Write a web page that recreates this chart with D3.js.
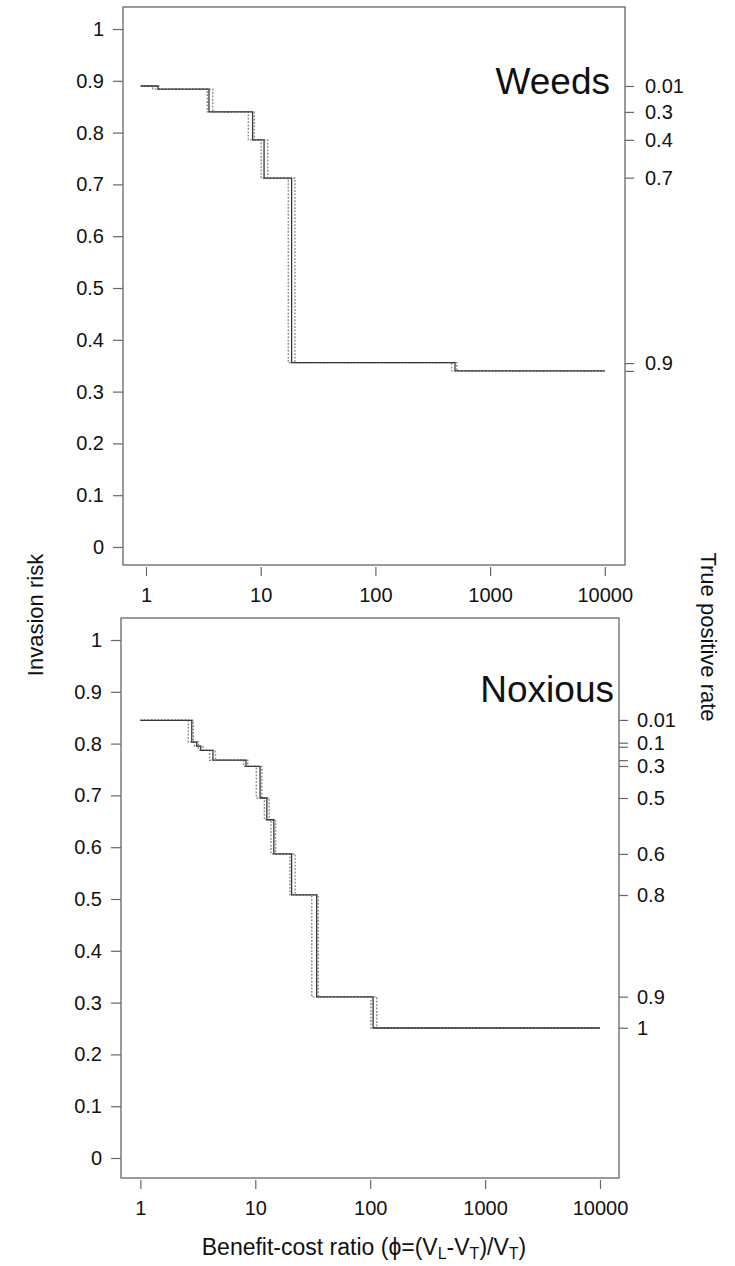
<!DOCTYPE html>
<html>
<head>
<meta charset="utf-8">
<script src="https://cdnjs.cloudflare.com/ajax/libs/d3/7.8.5/d3.min.js"></script>
<style>
    body { margin: 0; background: #fff; }
    text { font-family: 'Liberation Sans', Arial, sans-serif; fill: #111; }
    .frame { fill: none; stroke: #666; stroke-width: 1.3; }
    .tick-line { stroke: #666; stroke-width: 1.2; }
    .step { fill: none; stroke: #383838; stroke-width: 1.3; }
    .ci { fill: none; stroke: #8a8a8a; stroke-width: 1.4; stroke-dasharray: 1.8,1.6; }
</style>
</head>
<body>
<svg class="chart"></svg>
<script>
// Weeds panel: benefit-cost ratio where the step happens, and invasion risk after it
var weedsRatio = [0.9, 1.27, 3.54, 8.5, 10.7, 18.6, 494, 10000];
var weedsRisk = [0.890, 0.884, 0.840, 0.786, 0.712, 0.356, 0.340, 0.340];
// dotted bounds (lower / upper ratio for each step)
var weedsLo = [0.9, 1.15, 3.42, 7.8, 10.1, 17.4, 462, 10000];
var weedsHi = [0.9, 1.3, 3.82, 8.8, 11.5, 19.9, 512, 10000];
// true positive rate ticks on the right
var weedsTprAt = [0.890, 0.840, 0.786, 0.713, 0.355, 0.340];
var weedsTprLabel = ['0.01', '0.3', '0.4', '0.7', '0.9', ''];

// Noxious panel
var noxRatio = [1, 2.80, 3.09, 3.35, 4.28, 8.3, 11.0, 12.6, 14.5, 20.7, 34.2, 106, 10000];
var noxRisk = [0.845, 0.803, 0.795, 0.787, 0.768, 0.756, 0.695, 0.653, 0.587, 0.508, 0.311, 0.251, 0.251];
var noxLo = [1, 2.61, 2.95, 3.2, 4.0, 7.9, 10.2, 12.0, 13.7, 20.0, 31.0, 101.6, 10000];
var noxHi = [1, 2.89, 3.2, 3.5, 4.5, 8.6, 11.4, 13.2, 15.0, 22.2, 35.3, 114, 10000];
var noxTprAt = [0.8457, 0.8017, 0.794, 0.768, 0.7568, 0.695, 0.587, 0.5077, 0.3114, 0.2515];
var noxTprLabel = ['0.01', '0.1', '', '', '0.3', '0.5', '0.6', '0.8', '0.9', '1'];

// Axis ticks
var xTicks = [1, 10, 100, 1000, 10000];
var yTicks = [0, 0.1, 0.2, 0.3, 0.4, 0.5, 0.6, 0.7, 0.8, 0.9, 1];

var width = 735,
    height = 1266;

var svg = d3.select('.chart').attr('width', width).attr('height', height);

// panel boxes (pixels)
var panels = [
    {
        name: 'Weeds', box: { left: 123, right: 625, top: 7, bottom: 565 },
        xr: [146, 604.8], yr: [547, 29], nameX: 610, nameY: 94, rPad: 11,
        ratio: weedsRatio, risk: weedsRisk, lo: weedsLo, hi: weedsHi,
        tprAt: weedsTprAt, tprLabel: weedsTprLabel
    },
    {
        name: 'Noxious', box: { left: 121, right: 619, top: 618, bottom: 1178 },
        xr: [140.4, 600], yr: [1158, 640], nameX: 614, nameY: 702, rPad: 9,
        ratio: noxRatio, risk: noxRisk, lo: noxLo, hi: noxHi,
        tprAt: noxTprAt, tprLabel: noxTprLabel
    }
];

function styleAxis(a) {
    a.select('.domain').remove();
    a.selectAll('line').attr('class', 'tick-line').attr('stroke', null);
    a.selectAll('text').attr('font-size', 20).attr('fill', null);
}

panels.forEach(function (p) {
    var x = d3.scaleLog().domain([1, 10000]).range(p.xr);
    var y = d3.scaleLinear().domain([0, 1]).range(p.yr);
    var g = svg.append('g');

    // frame
    g.append('rect')
        .attr('class', 'frame')
        .attr('x', p.box.left)
        .attr('y', p.box.top)
        .attr('width', p.box.right - p.box.left)
        .attr('height', p.box.bottom - p.box.top);

    // left axis
    var yAxis = d3.axisLeft(y).tickValues(yTicks).tickSize(10).tickPadding(9)
        .tickFormat(function (d) { return d3.format('')(d); });
    g.append('g')
        .attr('transform', 'translate(' + p.box.left + ',0)')
        .call(yAxis)
        .call(styleAxis);

    // bottom axis
    var xAxis = d3.axisBottom(x).tickValues(xTicks).tickSize(9).tickPadding(12)
        .tickFormat(d3.format('d'));
    g.append('g')
        .attr('transform', 'translate(0,' + (p.box.bottom + 2) + ')')
        .call(xAxis)
        .call(styleAxis);

    // right axis: true positive rate at the risk levels
    var rAxis = d3.axisRight(y).tickValues(p.tprAt).tickSize(9).tickPadding(p.rPad)
        .tickFormat(function (d, i) { return p.tprLabel[i]; });
    g.append('g')
        .attr('transform', 'translate(' + p.box.right + ',0)')
        .call(rAxis)
        .call(styleAxis);

    // step lines
    var line = d3.line()
        .x(function (d) { return x(d[0]); })
        .y(function (d) { return y(d[1]); })
        .curve(d3.curveStepAfter);

    [p.lo, p.hi].forEach(function (bound) {
        g.append('path')
            .datum(bound.map(function (r, i) { return [r, p.risk[i]]; }))
            .attr('class', 'ci')
            .attr('d', line);
    });

    g.append('path')
        .datum(p.ratio.map(function (r, i) { return [r, p.risk[i]]; }))
        .attr('class', 'step')
        .attr('d', line);

    // panel name
    g.append('text')
        .attr('x', p.nameX)
        .attr('y', p.nameY)
        .attr('text-anchor', 'end')
        .attr('font-size', 37)
        .text(p.name);
});

// axis titles
svg.append('text')
    .attr('transform', 'translate(43,615) rotate(-90)')
    .attr('text-anchor', 'middle')
    .attr('font-size', 22)
    .text('Invasion risk');

svg.append('text')
    .attr('transform', 'translate(701,637) rotate(90)')
    .attr('text-anchor', 'middle')
    .attr('font-size', 22)
    .text('True positive rate');

var title = svg.append('text')
    .attr('x', 364)
    .attr('y', 1255)
    .attr('text-anchor', 'middle')
    .attr('font-size', 23);
title.append('tspan').text('Benefit-cost ratio (\u03d5=(V');
title.append('tspan').attr('font-size', 16).attr('dy', 4).text('L');
title.append('tspan').attr('dy', -4).text('-V');
title.append('tspan').attr('font-size', 16).attr('dy', 4).text('T');
title.append('tspan').attr('dy', -4).text(')/V');
title.append('tspan').attr('font-size', 16).attr('dy', 4).text('T');
title.append('tspan').attr('dy', -4).text(')');
</script>
</body>
</html>
